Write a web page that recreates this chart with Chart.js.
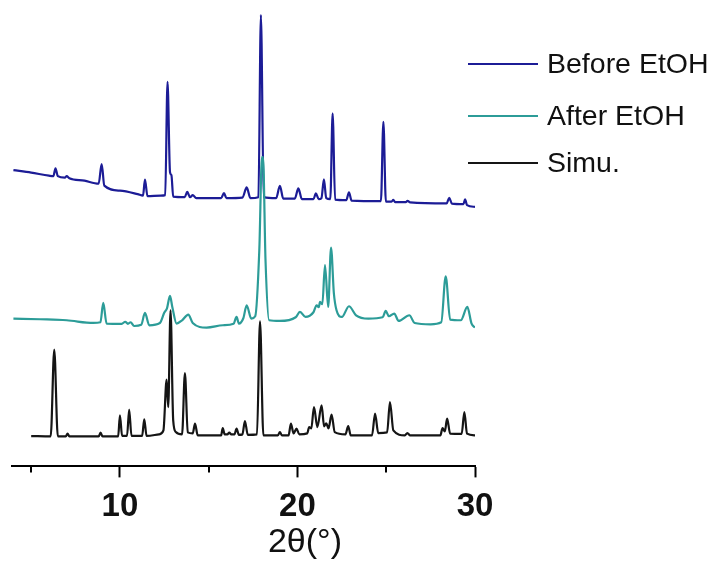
<!DOCTYPE html>
<html>
<head>
<meta charset="utf-8">
<script src="https://cdn.jsdelivr.net/npm/chart.js@4.4.1/dist/chart.umd.min.js"></script>
<style>
  html, body { margin: 0; padding: 0; background: #ffffff; }
  #wrap { width: 721px; height: 579px; }
</style>
</head>
<body>
<div id="wrap"><canvas id="c" width="721" height="579"></canvas></div>
<script>
// ---- data (2θ in degrees, intensity in arbitrary stacked units) ----
const seriesNames = ['Before EtOH', 'After EtOH', 'Simu.'];
const seriesColors = ['#1c1c96', '#2c9c98', '#151515'];

const beforeX = [4.0,5.0,6.0,6.25,6.37,6.5,6.9,7.0,7.15,8.0,8.8,8.97,9.12,10.0,11.0,11.3,11.41,11.55,12.3,12.55,12.68,12.82,12.9,13.0,13.65,13.79,13.95,14.1,14.3,15.7,15.86,16.0,16.9,17.14,17.35,17.8,17.94,18.1,18.8,19.01,19.2,19.85,20.05,20.25,20.9,21.04,21.2,21.35,21.49,21.62,21.85,21.98,22.12,22.75,22.9,23.05,24.7,24.84,24.98,25.3,25.4,25.5,26.1,26.2,26.35,28.4,28.55,28.7,29.35,29.44,29.55,30.0];
const beforeY = [296,293.5,290.5,290,297.7,290,288.5,290,288,285.5,282.5,302,280.5,275.5,272,270.5,286.5,270,270.5,271,384.3,294,291,269.5,269,274.3,269,271,268,268,273,268,268.5,278.7,268,269,451,269,268,280.3,267.5,267.5,277.7,267,267,272.7,267,268,286.7,268,267,352.7,266.5,266,273.7,265.5,265,344.3,264.5,264.5,266.3,264,264,265.3,263.7,262.7,268.3,262.5,262,266.7,261,259.3];

const afterX = [4.0,5.5,7.0,8.5,8.9,9.06,9.25,10.1,10.3,10.45,10.6,10.8,11.2,11.41,11.65,12.25,12.5,12.65,12.82,12.95,13.19,13.5,13.85,14.1,14.88,15.8,16.4,16.57,16.7,16.95,17.14,17.4,17.62,17.85,18.0,18.06,18.2,18.4,19.0,19.9,20.14,20.45,20.9,21.08,21.2,21.27,21.4,21.55,21.73,21.89,22.05,22.2,22.5,22.9,23.3,24.0,24.8,24.97,25.15,25.45,25.7,26.3,26.6,27.5,28.1,28.35,28.6,29.2,29.57,29.8,30.0];
const afterY = [147.7,147,146,143.3,144,163.3,142.7,142.5,144.5,142.5,144,140.3,141.5,153.3,141,143.3,153.7,158,170.3,159.3,142.7,146,151.7,143.3,138.7,141,142.5,149.3,142.7,148,161,147.7,150,216,309,309,206,146,145.3,149,154.3,149.3,154,161,159,164.3,162,201,159.3,218.7,173,156,149.3,160,151,147.7,149,155.3,150,152.7,145.3,151,143.3,142,144,190,146.7,146,159.3,143,138.7];

const simuX = [5.0,6.1,6.3,6.5,6.95,7.05,7.15,8.8,8.91,9.02,9.9,10.0,10.12,10.4,10.52,10.65,11.25,11.37,11.5,12.2,12.45,12.63,12.72,12.85,13.0,13.15,13.5,13.66,13.82,14.1,14.23,14.38,15.7,15.79,15.9,16.05,16.16,16.27,16.45,16.57,16.7,16.9,17.04,17.2,17.72,17.89,18.08,18.9,19.01,19.12,19.5,19.63,19.78,19.95,20.1,20.55,20.66,20.78,20.93,21.12,21.36,21.5,21.62,21.75,21.92,22.1,22.7,22.86,23.0,24.2,24.37,24.55,25.05,25.21,25.4,26.05,26.19,26.35,28.05,28.17,28.3,28.43,28.6,29.25,29.4,29.55,30.0];
const simuY = [30.3,30,116.7,30,30,32.7,30,30,33.7,30,30,51,30.5,30.5,56.7,30.5,30.5,47,30.5,32,36,86.7,59.3,156,46,34.3,32,93.3,34,33,42.7,31,31,38.3,32,32,33.7,32,32,37.7,31.5,32,45.3,31.5,32,145,31,31,34.3,31,31,42.7,33,37.7,32,33,39.3,38,59.3,39.3,61,40,43,38,51.7,34.3,32,40.3,31,31,52.7,33.3,34,64.3,36,31,33.3,31,31,38.3,35,47.7,32.7,32.5,54.3,32.7,31];

const xMin = 3.92, xMax = 30;
const majorTicks = [10, 20, 30];
const minorTicks = [5, 15, 25];
const yMin = 0, yMax = 456;
const xTitle = '2θ(°)';

function pts(xs, ys) { return xs.map((x, i) => ({ x: x, y: ys[i] })); }

const FONT = '"Liberation Sans", Arial, Helvetica, sans-serif';

const extrasPlugin = {
  id: 'extras',
  afterDraw(chart) {
    const ctx = chart.ctx;
    const xs = chart.scales.x;
    const area = chart.chartArea;
    ctx.save();
    // minor ticks
    ctx.strokeStyle = '#000';
    ctx.lineWidth = 2;
    minorTicks.forEach(v => {
      const px = Math.round(xs.getPixelForValue(v));
      ctx.beginPath();
      ctx.moveTo(px, area.bottom);
      ctx.lineTo(px, area.bottom + 6);
      ctx.stroke();
    });
    // axis title
    ctx.fillStyle = '#111';
    ctx.font = '34px ' + FONT;
    ctx.textAlign = 'center';
    ctx.textBaseline = 'middle';
    ctx.fillText(xTitle, xs.getPixelForValue(20.42), area.bottom + 76);
    // legend
    const legendY = [64, 116, 163];
    ctx.font = '28.5px ' + FONT;
    ctx.textAlign = 'left';
    chart.data.datasets.forEach((ds, i) => {
      const y = legendY[i];
      ctx.strokeStyle = ds.borderColor;
      ctx.lineWidth = 2;
      ctx.beginPath();
      ctx.moveTo(468, y);
      ctx.lineTo(538, y);
      ctx.stroke();
      ctx.fillStyle = '#111';
      ctx.fillText(ds.label, 547, y + 1);
    });
    ctx.restore();
  }
};

new Chart(document.getElementById('c'), {
  type: 'line',
  data: {
    datasets: [
      { label: seriesNames[0], data: pts(beforeX, beforeY), borderColor: seriesColors[0], order: 2 },
      { label: seriesNames[1], data: pts(afterX, afterY), borderColor: seriesColors[1], order: 1 },
      { label: seriesNames[2], data: pts(simuX, simuY), borderColor: seriesColors[2], order: 0 }
    ]
  },
  options: {
    responsive: false,
    animation: false,
    events: [],
    elements: {
      line: { borderWidth: 2.2, tension: 0.4, cubicInterpolationMode: 'monotone', fill: false, borderJoinStyle: 'round' },
      point: { radius: 0, hoverRadius: 0 }
    },
    layout: { padding: { left: 12, right: 246, top: 10, bottom: 42 } },
    plugins: { legend: { display: false }, tooltip: { enabled: false } },
    scales: {
      x: {
        type: 'linear',
        min: xMin,
        max: xMax,
        afterBuildTicks(scale) { scale.ticks = majorTicks.map(v => ({ value: v })); },
        grid: { display: true, drawOnChartArea: false, drawTicks: true, tickLength: 11, tickWidth: 2, tickColor: '#000' },
        border: { display: true, color: '#000', width: 2 },
        ticks: { color: '#111', padding: 10, maxRotation: 0, autoSkip: false, font: { family: FONT, size: 33, weight: 'bold' } }
      },
      y: { type: 'linear', display: false, min: yMin, max: yMax }
    }
  },
  plugins: [extrasPlugin]
});
</script>
</body>
</html>
